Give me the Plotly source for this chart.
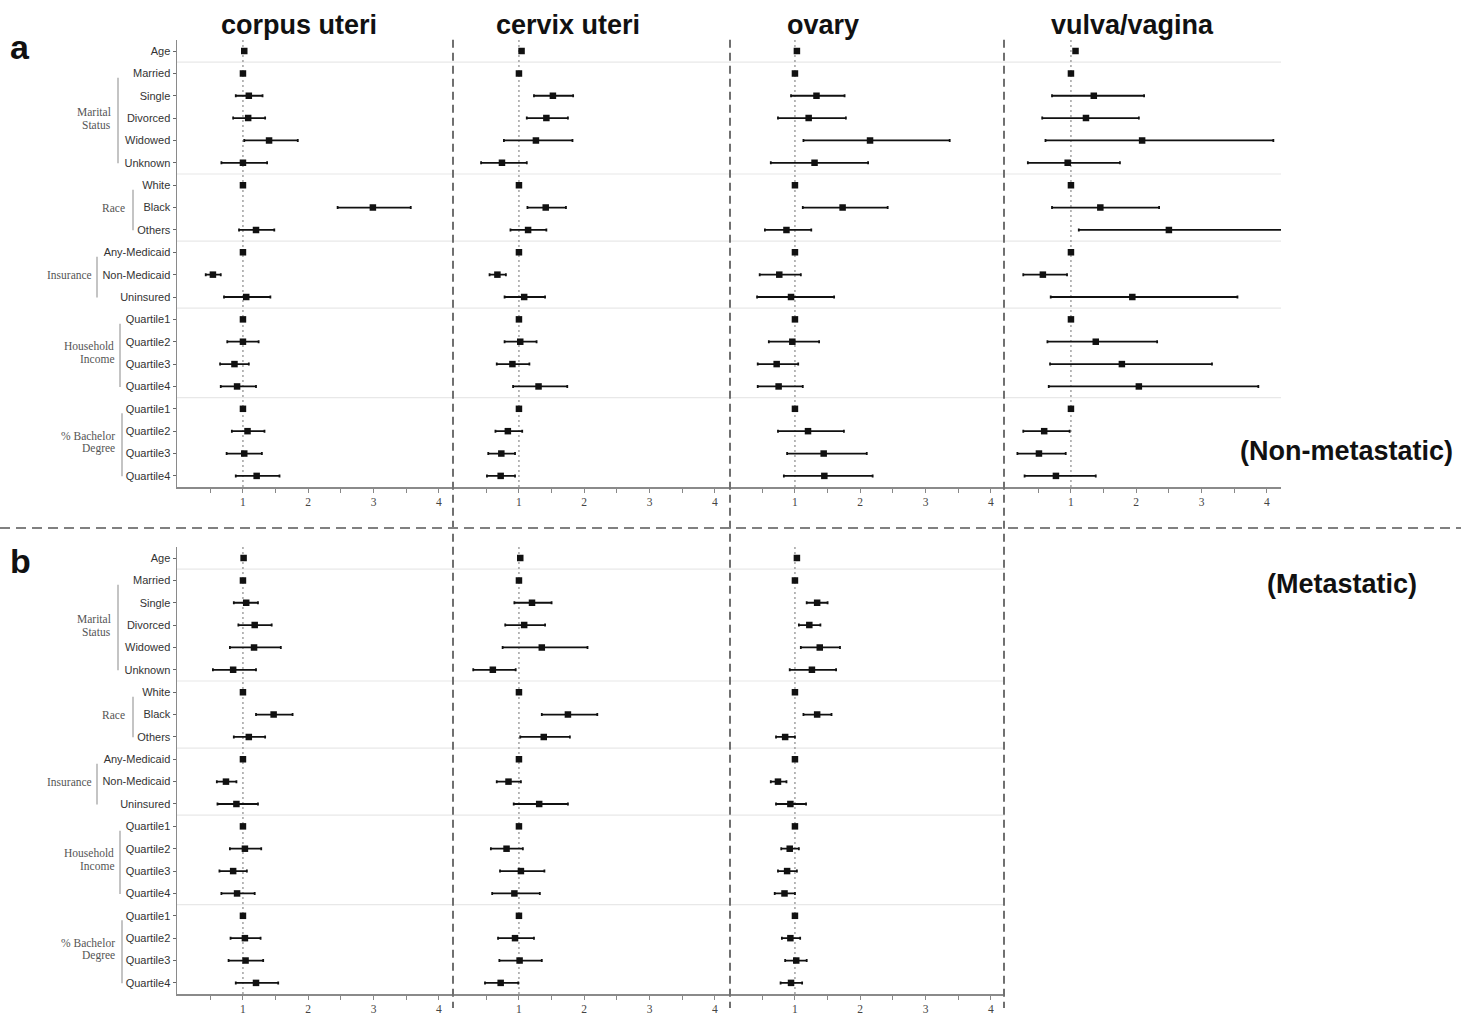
import plotly.graph_objects as go

W, H = 1461, 1015

# ---------------- data ----------------
rows = ["Age", "Married", "Single", "Divorced", "Widowed", "Unknown",
        "White", "Black", "Others",
        "Any-Medicaid", "Non-Medicaid", "Uninsured",
        "Quartile1", "Quartile2", "Quartile3", "Quartile4",
        "Quartile1", "Quartile2", "Quartile3", "Quartile4"]

group_names = [["Marital", "Status"], ["Race"], ["Insurance"],
               ["Household", "Income"], ["% Bachelor", "Degree"]]
group_first = [1, 6, 9, 12, 16]
group_last = [5, 8, 11, 15, 19]

panel_titles = ["corpus uteri", "cervix uteri", "ovary", "vulva/vagina"]
x_tick_vals = [0.5, 1, 1.5, 2, 2.5, 3, 3.5, 4]
x_tick_text = ["", "1", "", "2", "", "3", "", "4"]

# (a) Non-metastatic
a_corpus_or = [1.02, 1, 1.09, 1.08, 1.40, 1.00, 1, 2.99, 1.20, 1, 0.54, 1.05, 1, 1.00, 0.87, 0.91, 1, 1.07, 1.02, 1.21]
a_corpus_lo = [1.01, 1, 0.89, 0.85, 1.02, 0.67, 1, 2.45, 0.94, 1, 0.43, 0.71, 1, 0.76, 0.65, 0.66, 1, 0.83, 0.75, 0.89]
a_corpus_hi = [1.03, 1, 1.30, 1.34, 1.84, 1.37, 1, 3.57, 1.48, 1, 0.66, 1.42, 1, 1.24, 1.09, 1.20, 1, 1.33, 1.29, 1.56]

a_cervix_or = [1.04, 1, 1.52, 1.42, 1.26, 0.74, 1, 1.41, 1.14, 1, 0.67, 1.08, 1, 1.02, 0.90, 1.30, 1, 0.83, 0.73, 0.72]
a_cervix_lo = [1.03, 1, 1.23, 1.12, 0.77, 0.42, 1, 1.13, 0.87, 1, 0.55, 0.78, 1, 0.78, 0.66, 0.91, 1, 0.64, 0.53, 0.51]
a_cervix_hi = [1.05, 1, 1.83, 1.75, 1.82, 1.12, 1, 1.72, 1.42, 1, 0.80, 1.40, 1, 1.27, 1.16, 1.74, 1, 1.05, 0.94, 0.94]

a_ovary_or = [1.03, 1, 1.33, 1.21, 2.15, 1.30, 1, 1.73, 0.87, 1, 0.76, 0.94, 1, 0.96, 0.72, 0.75, 1, 1.20, 1.44, 1.45]
a_ovary_lo = [1.02, 1, 0.94, 0.74, 1.13, 0.63, 1, 1.12, 0.54, 1, 0.46, 0.42, 1, 0.60, 0.43, 0.43, 1, 0.74, 0.88, 0.83]
a_ovary_hi = [1.04, 1, 1.76, 1.78, 3.37, 2.12, 1, 2.42, 1.25, 1, 1.09, 1.60, 1, 1.37, 1.05, 1.12, 1, 1.75, 2.10, 2.19]

a_vulva_or = [1.07, 1, 1.35, 1.23, 2.09, 0.95, 1, 1.45, 2.50, 1, 0.57, 1.94, 1, 1.38, 1.78, 2.04, 1, 0.59, 0.51, 0.77]
a_vulva_lo = [1.05, 1, 0.71, 0.56, 0.61, 0.34, 1, 0.71, 1.12, 1, 0.27, 0.69, 1, 0.64, 0.68, 0.66, 1, 0.27, 0.18, 0.29]
a_vulva_hi = [1.09, 1, 2.12, 2.04, 4.10, 1.75, 1, 2.35, 4.60, 1, 0.94, 3.55, 1, 2.32, 3.16, 3.87, 1, 0.98, 0.92, 1.38]

# (b) Metastatic
b_corpus_or = [1.01, 1, 1.05, 1.18, 1.17, 0.85, 1, 1.47, 1.09, 1, 0.74, 0.90, 1, 1.03, 0.85, 0.91, 1, 1.03, 1.04, 1.20]
b_corpus_lo = [1.00, 1, 0.86, 0.93, 0.80, 0.54, 1, 1.20, 0.86, 1, 0.60, 0.61, 1, 0.80, 0.64, 0.67, 1, 0.81, 0.78, 0.89]
b_corpus_hi = [1.02, 1, 1.23, 1.44, 1.58, 1.20, 1, 1.76, 1.34, 1, 0.90, 1.23, 1, 1.28, 1.06, 1.18, 1, 1.27, 1.31, 1.54]

b_cervix_or = [1.02, 1, 1.20, 1.08, 1.35, 0.60, 1, 1.75, 1.38, 1, 0.84, 1.31, 1, 0.81, 1.03, 0.93, 1, 0.94, 1.01, 0.72]
b_cervix_lo = [1.01, 1, 0.93, 0.79, 0.75, 0.30, 1, 1.35, 1.02, 1, 0.66, 0.92, 1, 0.57, 0.71, 0.59, 1, 0.68, 0.70, 0.48]
b_cervix_hi = [1.03, 1, 1.50, 1.40, 2.05, 0.95, 1, 2.20, 1.78, 1, 1.03, 1.75, 1, 1.06, 1.39, 1.32, 1, 1.23, 1.35, 0.99]

b_ovary_or = [1.03, 1, 1.34, 1.22, 1.38, 1.26, 1, 1.34, 0.85, 1, 0.74, 0.93, 1, 0.92, 0.88, 0.84, 1, 0.93, 1.02, 0.94]
b_ovary_lo = [1.02, 1, 1.18, 1.06, 1.09, 0.92, 1, 1.13, 0.71, 1, 0.63, 0.71, 1, 0.79, 0.74, 0.69, 1, 0.80, 0.85, 0.78]
b_ovary_hi = [1.04, 1, 1.50, 1.39, 1.69, 1.63, 1, 1.56, 1.00, 1, 0.87, 1.17, 1, 1.06, 1.03, 1.00, 1, 1.08, 1.18, 1.11]

# ---------------- layout constants ----------------
def px(xp):
    return xp / W

def py(yp):
    return 1 - yp / H

panel_left_px = [177, 453, 729, 1005]
panel_w_px = 276
top_dom = [py(489), py(40)]
bot_dom = [py(998), py(549)]
x_range = [-0.01, 4.217]

SANS = "Liberation Sans, Arial, sans-serif"
SERIF = "Liberation Serif, Times New Roman, serif"

panels = [
    (0, top_dom, a_corpus_or, a_corpus_lo, a_corpus_hi),
    (1, top_dom, a_cervix_or, a_cervix_lo, a_cervix_hi),
    (2, top_dom, a_ovary_or, a_ovary_lo, a_ovary_hi),
    (3, top_dom, a_vulva_or, a_vulva_lo, a_vulva_hi),
    (0, bot_dom, b_corpus_or, b_corpus_lo, b_corpus_hi),
    (1, bot_dom, b_cervix_or, b_cervix_lo, b_cervix_hi),
    (2, bot_dom, b_ovary_or, b_ovary_lo, b_ovary_hi),
]

fig = go.Figure()
shapes = []
annotations = []
ypos = list(range(1, len(rows) + 1))
separators = [1.5] + [group_last[i] + 1.5 for i in range(len(group_last) - 1)]

layout_axes = {}
for k, (xi, ydom, orr, lo, hi) in enumerate(panels, start=1):
    xa = "x" if k == 1 else f"x{k}"
    ya = "y" if k == 1 else f"y{k}"
    plus = [h - o for h, o in zip(hi, orr)]
    minus = [o - l for o, l in zip(orr, lo)]
    fig.add_trace(go.Scatter(
        x=orr, y=ypos, mode="markers", xaxis=xa, yaxis=ya,
        marker=dict(symbol="square", size=6.5, color="#111111"),
        error_x=dict(type="data", symmetric=False, array=plus, arrayminus=minus,
                     color="#111111", thickness=1.8, width=1.5),
        showlegend=False, hoverinfo="skip"))
    left = panel_left_px[xi]
    is_label = (xi == 0)
    xkey = "xaxis" if k == 1 else f"xaxis{k}"
    ykey = "yaxis" if k == 1 else f"yaxis{k}"
    layout_axes[xkey] = dict(
        domain=[px(left), px(left + panel_w_px)], anchor=ya, range=x_range,
        tickmode="array", tickvals=x_tick_vals, ticktext=x_tick_text,
        ticks="outside", ticklen=4, tickcolor="#888888", tickwidth=1,
        showline=True, linecolor="#8a8a8a", linewidth=1.5,
        showgrid=False, zeroline=False, fixedrange=True,
        tickfont=dict(family=SERIF, size=11.5, color="#444444"))
    layout_axes[ykey] = dict(
        domain=ydom, anchor=xa, range=[len(rows) + 0.5, 0.5],
        tickmode="array", tickvals=ypos, ticktext=rows,
        showticklabels=is_label, ticks="outside" if is_label else "",
        ticklen=3, tickcolor="#666666",
        showline=is_label, linecolor="#8a8a8a", linewidth=1.5,
        showgrid=False, zeroline=False, fixedrange=True,
        tickfont=dict(family=SANS, size=11, color="#333333"))
    for s in separators:
        shapes.append(dict(type="line", xref=f"{xa} domain", yref=ya, x0=0, x1=1,
                           y0=s, y1=s, line=dict(color="#e8e8e8", width=1.2), layer="below"))
    shapes.append(dict(type="line", xref=xa, yref=f"{ya} domain", x0=1, x1=1, y0=0, y1=1,
                       line=dict(color="#8a8a8a", width=1.2, dash="2px,3px"), layer="below"))
    if is_label:
        label_right = [113, 127, 94, 116, 117]
        bracket_x = [118, 133, 97, 120, 122]
        for gi, names in enumerate(group_names):
            f, l = group_first[gi] + 1, group_last[gi] + 1
            yc = (f + l) / 2
            n = len(names)
            for li, nm in enumerate(names):
                annotations.append(dict(
                    text=nm, xref="paper", yref=ya, x=px(label_right[gi]), y=yc,
                    xanchor="right", yanchor="middle", showarrow=False,
                    yshift=((n - 1) / 2 - li) * 13,
                    font=dict(family=SERIF, size=11.5, color="#555555")))
            shapes.append(dict(type="line", xref="paper", yref=ya,
                               x0=px(bracket_x[gi]), x1=px(bracket_x[gi]),
                               y0=f + 0.2, y1=l + 0.02,
                               line=dict(color="#b0b0b0", width=1.5)))

for xd in [453, 730, 1004]:
    shapes.append(dict(type="line", xref="paper", yref="paper", x0=px(xd), x1=px(xd),
                       y0=py(40), y1=py(1012),
                       line=dict(color="#707070", width=2, dash="8px,5px")))
shapes.append(dict(type="line", xref="paper", yref="paper", x0=0, x1=1,
                   y0=py(530), y1=py(530),
                   line=dict(color="#808080", width=2, dash="10px,6px")))

title_x = [299, 568, 823, 1132]
for t, tx in zip(panel_titles, title_x):
    annotations.append(dict(text=t, xref="paper", yref="paper", x=px(tx), y=py(25),
                            xanchor="center", yanchor="middle", showarrow=False,
                            font=dict(family=SANS, size=27, color="#111111", weight="bold")))
annotations.append(dict(text="a", xref="paper", yref="paper", x=px(8), y=py(47),
                        xanchor="left", yanchor="middle", showarrow=False,
                        font=dict(family=SANS, size=34, color="#111111", weight="bold")))
annotations.append(dict(text="b", xref="paper", yref="paper", x=px(8), y=py(563),
                        xanchor="left", yanchor="middle", showarrow=False,
                        font=dict(family=SANS, size=34, color="#111111", weight="bold")))
annotations.append(dict(text="(Non-metastatic)", xref="paper", yref="paper", x=px(1346), y=py(453),
                        xanchor="center", yanchor="middle", showarrow=False,
                        font=dict(family=SANS, size=27, color="#111111", weight="bold")))
annotations.append(dict(text="(Metastatic)", xref="paper", yref="paper", x=px(1342), y=py(586),
                        xanchor="center", yanchor="middle", showarrow=False,
                        font=dict(family=SANS, size=27, color="#111111", weight="bold")))

fig.update_layout(
    width=W, height=H, autosize=False,
    margin=dict(l=0, r=0, t=0, b=0),
    paper_bgcolor="white", plot_bgcolor="rgba(0,0,0,0)",
    shapes=shapes, annotations=annotations,
    **layout_axes)

fig.write_html("out.html",
               config={"displayModeBar": False, "staticPlot": True},
               post_script="document.body.style.margin='0';document.body.style.overflow='hidden';")
